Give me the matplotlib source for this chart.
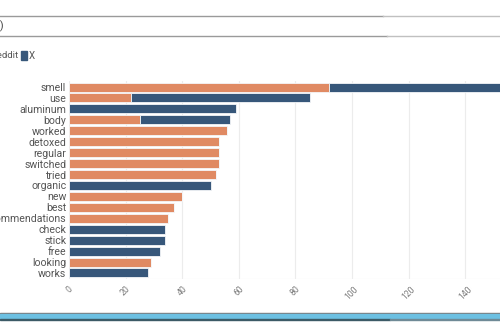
import matplotlib
matplotlib.use("Agg")
from matplotlib import pyplot as plt
from matplotlib.lines import Line2D
from matplotlib.patches import Rectangle

plt.rcParams['font.family'] = ['Roboto', 'DejaVu Sans']

words = ['smell', 'use', 'aluminum', 'body', 'worked', 'detoxed', 'regular',
         'switched', 'tried', 'organic', 'new', 'best', 'recommendations',
         'check', 'stick', 'free', 'looking', 'works']
reddit = [92, 22, 0, 25, 56, 53, 53, 53, 52, 0, 40, 37, 35, 0, 0, 0, 29, 0]
x_counts = [65, 63, 59, 32, 0, 0, 0, 0, 0, 50, 0, 0, 0, 34, 34, 32, 0, 28]
xticks = [0, 20, 40, 60, 80, 100, 120, 140]

c_reddit = '#e08a63'
c_x = '#37577a'

fig = plt.figure(figsize=(5, 3.3), dpi=100)
W, H = 500, 330

def fx(px):
    return px / W

def fy(py):
    return 1 - py / H

# plot area runs past the right edge of the frame
ax = fig.add_axes([fx(69), fy(279), 160 * 2.83 / W, 198 / H])
ypos = list(range(len(words)))
ax.barh(ypos, reddit, height=0.82, color=c_reddit, edgecolor='#f4f6f8', linewidth=0.6)
ax.barh(ypos, x_counts, left=reddit, height=0.82, color=c_x, edgecolor='#f4f6f8', linewidth=0.6)
ax.set_ylim(len(words) - 0.45, -0.55)
ax.set_xlim(0, 160)
ax.set_yticks(ypos)
ax.set_yticklabels(words, fontsize=7.6, color='#555555')
ax.set_xticks(xticks)
ax.set_xticklabels([str(t) for t in xticks], fontsize=6.2, color='#7a7a7a', rotation=45,
                   ha='center', va='top')
ax.tick_params(axis='both', length=0, pad=2)
ax.tick_params(axis='x', pad=4)
ax.grid(axis='x', color='#ececec', linewidth=0.8)
ax.set_axisbelow(True)
for s in ax.spines.values():
    s.set_visible(False)
ax.axhline(len(words) - 0.45, color='#ececec', linewidth=0.8)

# input box above the chart
fig.add_artist(Line2D([fx(0), fx(383)], [fy(16), fy(16)], color='#9a9a9a', lw=1.0))
fig.add_artist(Line2D([fx(383), fx(500)], [fy(16), fy(16)], color='#c0c0c0', lw=1.0))
fig.add_artist(Line2D([fx(0), fx(387)], [fy(36), fy(36)], color='#9a9a9a', lw=1.0))
fig.add_artist(Line2D([fx(387), fx(500)], [fy(36), fy(36)], color='#c0c0c0', lw=1.0))
fig.text(fx(4), fy(26), '(0)', fontsize=7.8, color='#444444', ha='right', va='center')

# legend
fig.text(fx(18.5), fy(56), 'Reddit', fontsize=6.8, color='#555555', ha='right', va='center')
fig.add_artist(Rectangle((fx(21), fy(60)), fx(6), 9 / H, color=c_x))
fig.text(fx(29), fy(56), 'X', fontsize=7.0, color='#555555', ha='left', va='center')

# bottom bar
fig.add_artist(Rectangle((0, fy(314)), 1, 1 / H, color='#7a7a7a'))
fig.add_artist(Rectangle((0, fy(319)), 1, 5 / H, color='#6cc0e2'))
fig.add_artist(Rectangle((0, fy(320)), fx(390), 1 / H, color='#3c5a66'))
fig.add_artist(Rectangle((fx(390), fy(320)), fx(110), 1 / H, color='#6f8a96'))

fig.savefig('out.png', dpi=100)
